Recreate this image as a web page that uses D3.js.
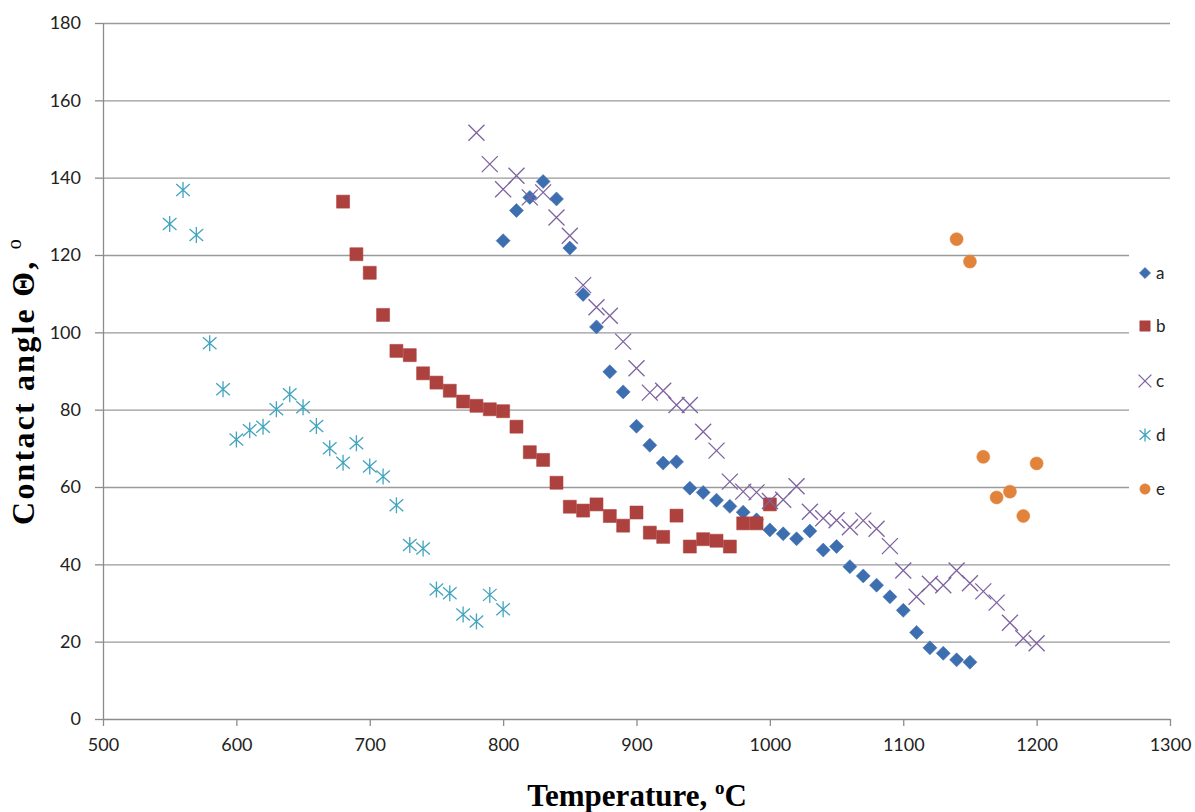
<!DOCTYPE html>
<html>
<head>
<meta charset="utf-8">
<script src="https://cdn.jsdelivr.net/npm/d3@7"></script>
<style>
  body { margin: 0; background: #fff; }
  text { font-family: Lato, "Liberation Sans", sans-serif; }
</style>
</head>
<body>
<svg id="chart" width="1195" height="812"></svg>
<script>
// values
var tempA = [800, 810, 820, 830, 840, 850, 860, 870, 880, 890, 900, 910, 920, 930, 940, 950, 960, 970, 980, 990,
             1000, 1010, 1020, 1030, 1040, 1050, 1060, 1070, 1080, 1090, 1100, 1110, 1120, 1130, 1140, 1150];
var angleA = [123.7, 131.5, 134.9, 139, 134.5, 121.8, 109.8, 101.4, 89.8, 84.6, 75.7, 70.8, 66.2, 66.5, 59.7, 58.6, 56.6, 55.0, 53.5, 51.5,
              48.9, 47.9, 46.6, 48.6, 43.7, 44.6, 39.4, 37, 34.6, 31.6, 28.1, 22.4, 18.4, 17, 15.3, 14.7];

var tempB = [680, 690, 700, 710, 720, 730, 740, 750, 760, 770, 780, 790, 800, 810, 820, 830, 840, 850, 860, 870,
             880, 890, 900, 910, 920, 930, 940, 950, 960, 970, 980, 990, 1000];
var angleB = [133.8, 120.2, 115.4, 104.5, 95.2, 94.1, 89.4, 87, 84.9, 82.1, 81, 80.1, 79.6, 75.6, 69, 67, 61.1, 54.9, 53.9, 55.5,
              52.5, 50, 53.4, 48.2, 47.1, 52.6, 44.6, 46.5, 46.1, 44.6, 50.6, 50.6, 55.5];

var tempC = [780, 790, 800, 810, 820, 830, 840, 850, 860, 870, 880, 890, 900, 910, 920, 930, 940, 950, 960, 970,
             980, 990, 1000, 1010, 1020, 1030, 1040, 1050, 1060, 1070, 1080, 1090, 1100, 1110, 1120, 1130, 1140, 1150,
             1160, 1170, 1180, 1190, 1200];
var angleC = [151.6, 143.5, 137, 140.5, 134.9, 136.2, 129.7, 125, 112.2, 106.5, 104.3, 97.6, 90.7, 84.4, 84.9, 81.2, 81.2, 74.3, 69.4, 61.4,
              58.8, 58.6, 56.4, 56.7, 60.2, 53.6, 51.9, 51.4, 49.6, 51.3, 49.2, 44.7, 38.4, 31.6, 35, 34.6, 38.4, 35.1,
              33, 30.1, 24.9, 20.9, 19.6];

var tempD = [550, 560, 570, 580, 590, 600, 610, 620, 630, 640, 650, 660, 670, 680, 690, 700, 710, 720, 730, 740,
             750, 760, 770, 780, 790, 800];
var angleD = [128, 136.8, 125.2, 97.2, 85.3, 72.3, 74.7, 75.6, 80.1, 84, 80.6, 75.8, 70, 66.3, 71.3, 65.3, 62.7, 55.3, 45, 44.1,
              33.5, 32.5, 27, 25.2, 32.1, 28.4];

var tempE = [1140, 1150, 1160, 1170, 1180, 1190, 1200];
var angleE = [124.1, 118.3, 67.8, 57.3, 58.8, 52.5, 66.1];

var seriesNames = ['a', 'b', 'c', 'd', 'e'];
var xTicks = [500, 600, 700, 800, 900, 1000, 1100, 1200, 1300];
var yTicks = [0, 20, 40, 60, 80, 100, 120, 140, 160, 180];

var colors = {a: '#3d6fb0', b: '#ad413e', c: '#7e62a0', d: '#42a4bf', e: '#e2833b'};

var svg = d3.select('#chart');
var plotLeft = 103, plotRight = 1170, plotTop = 23, plotBottom = 719;

var x = d3.scaleLinear().domain([500, 1300]).range([plotLeft, plotRight]);
var y = d3.scaleLinear().domain([0, 180]).range([plotBottom, plotTop]);

// grid
svg.append('g')
  .attr('transform', 'translate(' + plotLeft + ',0)')
  .call(d3.axisLeft(y).tickValues(yTicks.slice(1)).tickSize(-(plotRight - plotLeft)).tickFormat(''))
  .call(function(g) {
    g.select('.domain').remove();
    g.selectAll('line').attr('stroke', '#9a9a9a').attr('stroke-width', 1.3);
  });

// y axis
svg.append('g')
  .attr('transform', 'translate(' + plotLeft + ',0)')
  .call(d3.axisLeft(y).tickValues(yTicks).tickSize(8).tickSizeOuter(0).tickPadding(14))
  .call(function(g) {
    g.select('.domain').attr('stroke', '#8c8c8c').attr('stroke-width', 1.3);
    g.selectAll('line').attr('stroke', '#8c8c8c').attr('stroke-width', 1.3);
    g.selectAll('text').attr('font-family', 'Lato, sans-serif').attr('font-size', 18).attr('fill', '#222');
  });

// x axis
svg.append('g')
  .attr('transform', 'translate(0,' + plotBottom + ')')
  .call(d3.axisBottom(x).tickValues(xTicks).tickFormat(d3.format('d')).tickSize(7).tickSizeOuter(0).tickPadding(12))
  .call(function(g) {
    g.select('.domain').attr('stroke', '#8c8c8c').attr('stroke-width', 1.3);
    g.selectAll('line').attr('stroke', '#8c8c8c').attr('stroke-width', 1.3);
    g.selectAll('text').attr('font-family', 'Lato, sans-serif').attr('font-size', 18).attr('fill', '#222');
  });

// marker shapes
var diamond = {draw: function(ctx, r) { ctx.moveTo(0, -r); ctx.lineTo(r, 0); ctx.lineTo(0, r); ctx.lineTo(-r, 0); ctx.closePath(); }};
var square = {draw: function(ctx, r) { ctx.rect(-r, -r, 2 * r, 2 * r); }};
var circle = {draw: function(ctx, r) { ctx.moveTo(r, 0); ctx.arc(0, 0, r, 0, 2 * Math.PI); }};
var cross = {draw: function(ctx, r) { ctx.moveTo(-r, -r); ctx.lineTo(r, r); ctx.moveTo(r, -r); ctx.lineTo(-r, r); }};
var star = {draw: function(ctx, r) {
  ctx.moveTo(0, -r); ctx.lineTo(0, r);
  ctx.moveTo(-r * 0.85, -r * 0.75); ctx.lineTo(r * 0.85, r * 0.75);
  ctx.moveTo(r * 0.85, -r * 0.75); ctx.lineTo(-r * 0.85, r * 0.75);
}};

var markers = {
  a: {type: diamond, r: 7, fill: true},
  b: {type: square, r: 6.5, fill: true},
  c: {type: cross, r: 8, fill: false},
  d: {type: star, r: 8, fill: false},
  e: {type: circle, r: 6.5, fill: true}
};

var data = {
  a: d3.zip(tempA, angleA),
  b: d3.zip(tempB, angleB),
  c: d3.zip(tempC, angleC),
  d: d3.zip(tempD, angleD),
  e: d3.zip(tempE, angleE)
};

function drawMarks(sel, key, scale) {
  var m = markers[key];
  var path = d3.symbol().type(m.type).size(m.r * (scale || 1));
  sel.attr('d', path)
    .attr('fill', m.fill ? colors[key] : 'none')
    .attr('stroke', colors[key])
    .attr('stroke-width', m.fill ? 0.8 : 1.3)
    .attr('stroke-opacity', m.fill ? 0.7 : 1);
}

seriesNames.forEach(function(key) {
  svg.append('g').selectAll('path')
    .data(data[key])
    .enter().append('path')
    .attr('transform', function(d) { return 'translate(' + x(d[0]) + ',' + y(d[1]) + ')'; })
    .call(drawMarks, key);
});

// legend (white box over the plot)
var legend = svg.append('g');
legend.append('rect')
  .attr('x', 1129).attr('y', 246).attr('width', 66).attr('height', 268)
  .attr('fill', '#fff');
var legendY = [273, 326, 381, 435, 489];
seriesNames.forEach(function(key, i) {
  legend.append('path')
    .attr('transform', 'translate(1145,' + legendY[i] + ')')
    .call(drawMarks, key, 0.8);
  legend.append('text')
    .attr('x', 1156).attr('y', legendY[i] + 6)
    .attr('font-size', 17).attr('fill', '#222')
    .text(key);
});

// axis titles
var yTitle = svg.append('text')
  .attr('transform', 'translate(34,381) rotate(-90)')
  .attr('text-anchor', 'middle')
  .style('font-family', '"Liberation Serif", "DejaVu Serif", serif')
  .style('letter-spacing', '2.2px')
  .attr('font-weight', 'bold').attr('font-size', 32).attr('fill', '#000');
yTitle.append('tspan').text('Contact angle \u0398, ');
yTitle.append('tspan').attr('font-size', 20).attr('font-weight', 'normal').attr('dy', -13).text('o');

var xTitle = svg.append('text')
  .attr('x', 637).attr('y', 806)
  .attr('text-anchor', 'middle')
  .style('font-family', '"Liberation Serif", "DejaVu Serif", serif')
  .attr('font-weight', 'bold').attr('font-size', 31).attr('fill', '#000');
xTitle.append('tspan').text('Temperature, ');
xTitle.append('tspan').attr('font-size', 19).attr('dy', -12).text('o');
xTitle.append('tspan').attr('dy', 12).text('C');
</script>
</body>
</html>
